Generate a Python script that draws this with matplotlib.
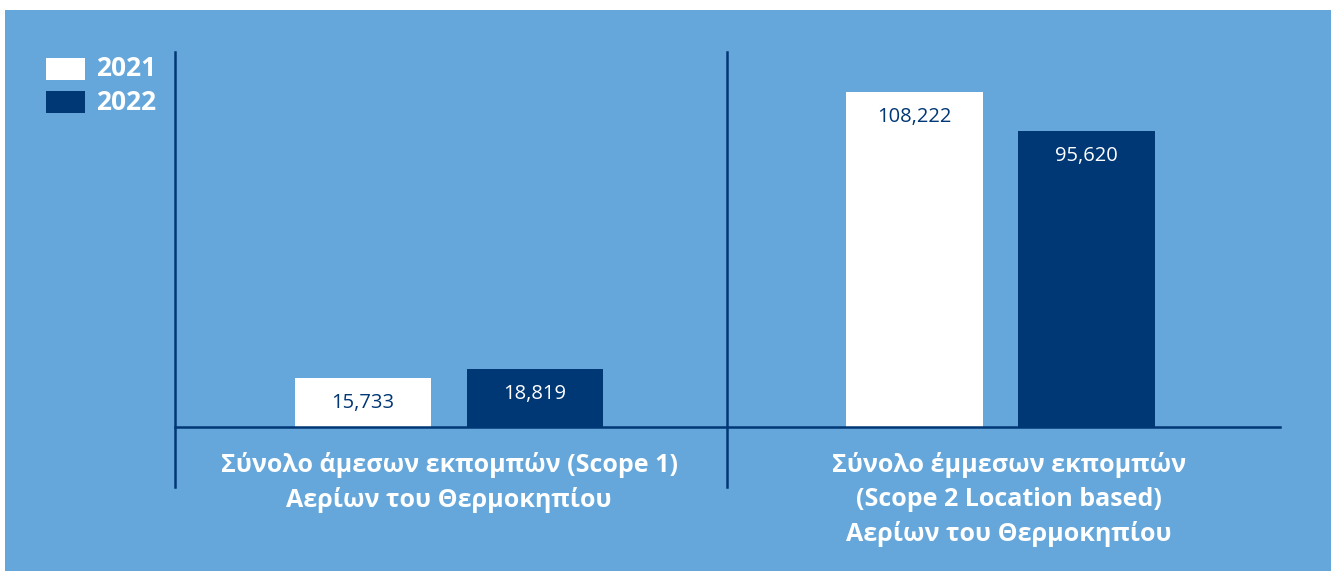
import numpy as np
import matplotlib.pyplot as plt
from matplotlib.patches import Rectangle

plt.rcParams['font.family'] = ['Open Sans', 'DejaVu Sans']

# data
categories = [
    "Σύνολο άμεσων εκπομπών (Scope 1)\nΑερίων του Θερμοκηπίου",
    "Σύνολο έμμεσων εκπομπών\n(Scope 2 Location based)\nΑερίων του Θερμοκηπίου",
]
years = ["2021", "2022"]
values_2021 = [15733, 108222]
values_2022 = [18819, 95620]

BLUE = "#65a7db"
NAVY = "#003775"
W, H = 1331, 571

fig = plt.figure(figsize=(W / 100, H / 100), dpi=100, facecolor="white")
# blue panel
fig.patches.append(Rectangle((5 / W, 0), 1 - 5 / W, 1 - 10 / H,
                             transform=fig.transFigure, facecolor=BLUE,
                             edgecolor="none", zorder=-1))

ax = fig.add_axes([175 / W, 1 - 427 / H, (1280 - 175) / W, (427 - 52) / H])
ax.set_facecolor("none")
ax.set_zorder(2)
ax.set_xlim(-0.497, 1.507)
ax.set_ylim(0, 121000)

x = np.arange(len(categories))
bw = 0.247
off = 0.156
series = [(values_2021, "white", NAVY, -off), (values_2022, NAVY, "white", off)]
for vals, fc, tc, dx in series:
    bars = ax.bar(x + dx, vals, width=bw, color=fc, zorder=2)
    for b, v in zip(bars, vals):
        ax.annotate(f"{v:,}", (b.get_x() + b.get_width() / 2, v),
                    xytext=(0, -25), textcoords="offset pixels",
                    ha="center", va="center", color=tc, fontsize=14.5)

for s in ax.spines.values():
    s.set_visible(False)
ax.set_xticks([])
ax.set_yticks([])

# axis lines
ax.plot([-0.497, 1.507], [0, 0], color=NAVY, lw=1.8, zorder=3, clip_on=False)
trans = ax.get_xaxis_transform()
for xv in [-0.497, 0.504]:
    ax.plot([xv, xv], [-60 / 375, 1], color=NAVY, lw=1.8, transform=trans, clip_on=False)

# category labels
for xi, lab in zip(x, categories):
    ax.text(xi + (0.015 if xi == 1 else 0), -25 / 375, lab, transform=trans,
            ha="center", va="top", color="white", fontsize=18,
            fontweight="bold", linespacing=1.45)

# legend
for i, (yr, c) in enumerate(zip(years, ["white", NAVY])):
    ytop = 58 + i * 33
    fig.patches.append(Rectangle((46 / W, 1 - (ytop + 22) / H), 39 / W, 22 / H,
                                 transform=fig.transFigure, facecolor=c,
                                 edgecolor="none", zorder=1))
    fig.text(96 / W, 1 - (ytop + 11) / H, yr, color="white", fontsize=19,
             fontweight="bold", ha="left", va="center")

fig.savefig("out.png", dpi=100, facecolor="white")
